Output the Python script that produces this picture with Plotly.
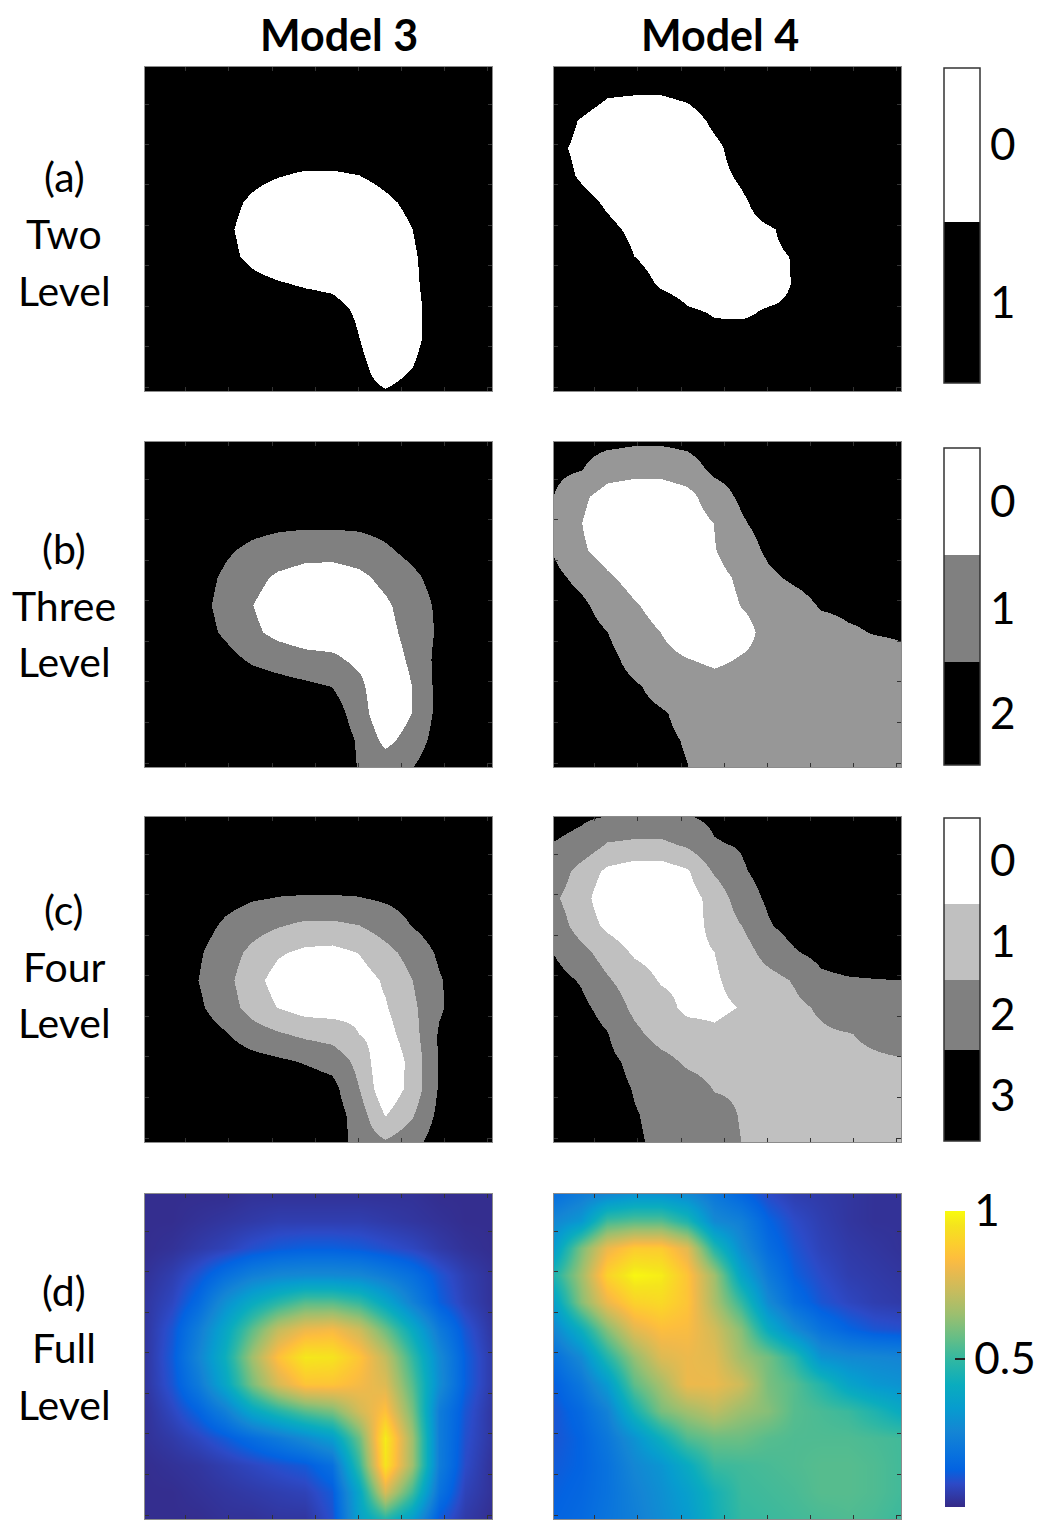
import plotly.graph_objects as go

# ---------------------------------------------------------------
# Data: normalised field sampled on a coarse grid (read from the
# "Full Level" panels and the level boundaries), rows top -> bottom
# ---------------------------------------------------------------
GRID_X = list(range(14))
GRID_Y = list(range(13))

MODEL3_FIELD = [
    [0.01, 0.01, 0.01, 0.01, 0.02, 0.02, 0.02, 0.02, 0.02, 0.02, 0.02, 0.01, 0.01, 0.01],
    [0.01, 0.01, 0.02, 0.03, 0.04, 0.05, 0.05, 0.05, 0.05, 0.04, 0.03, 0.02, 0.01, 0.01],
    [0.01, 0.02, 0.04, 0.06, 0.09, 0.11, 0.12, 0.12, 0.11, 0.09, 0.07, 0.04, 0.02, 0.01],
    [0.02, 0.05, 0.10, 0.17, 0.23, 0.26, 0.27, 0.27, 0.26, 0.22, 0.17, 0.10, 0.05, 0.02],
    [0.03, 0.07, 0.15, 0.29, 0.40, 0.48, 0.55, 0.55, 0.50, 0.38, 0.24, 0.12, 0.06, 0.02],
    [0.03, 0.10, 0.22, 0.38, 0.56, 0.72, 0.80, 0.82, 0.74, 0.58, 0.40, 0.21, 0.10, 0.03],
    [0.03, 0.11, 0.25, 0.42, 0.66, 0.85, 0.96, 0.95, 0.86, 0.72, 0.50, 0.27, 0.12, 0.04],
    [0.03, 0.10, 0.21, 0.38, 0.60, 0.76, 0.86, 0.86, 0.82, 0.77, 0.55, 0.28, 0.12, 0.04],
    [0.02, 0.07, 0.13, 0.23, 0.38, 0.47, 0.55, 0.60, 0.75, 0.85, 0.60, 0.22, 0.10, 0.03],
    [0.02, 0.04, 0.07, 0.11, 0.16, 0.21, 0.27, 0.34, 0.58, 0.97, 0.66, 0.22, 0.09, 0.03],
    [0.01, 0.02, 0.03, 0.05, 0.07, 0.09, 0.11, 0.17, 0.50, 0.95, 0.66, 0.22, 0.08, 0.02],
    [0.01, 0.01, 0.02, 0.03, 0.04, 0.05, 0.06, 0.11, 0.38, 0.76, 0.52, 0.18, 0.06, 0.02],
    [0.01, 0.01, 0.01, 0.02, 0.02, 0.03, 0.03, 0.09, 0.36, 0.47, 0.34, 0.11, 0.04, 0.01],
]

MODEL4_FIELD = [
    [0.17, 0.22, 0.26, 0.30, 0.30, 0.27, 0.20, 0.14, 0.08, 0.05, 0.04, 0.03, 0.02, 0.02],
    [0.26, 0.32, 0.52, 0.55, 0.55, 0.46, 0.27, 0.23, 0.13, 0.08, 0.05, 0.03, 0.02, 0.02],
    [0.34, 0.60, 0.80, 0.88, 0.88, 0.78, 0.47, 0.28, 0.16, 0.10, 0.06, 0.04, 0.03, 0.02],
    [0.46, 0.66, 0.90, 0.99, 0.97, 0.86, 0.66, 0.37, 0.21, 0.12, 0.08, 0.05, 0.04, 0.03],
    [0.36, 0.62, 0.80, 0.90, 0.92, 0.86, 0.68, 0.50, 0.27, 0.16, 0.10, 0.07, 0.05, 0.04],
    [0.26, 0.42, 0.62, 0.78, 0.84, 0.83, 0.75, 0.62, 0.40, 0.27, 0.18, 0.13, 0.10, 0.09],
    [0.17, 0.27, 0.47, 0.64, 0.77, 0.80, 0.78, 0.66, 0.59, 0.48, 0.30, 0.27, 0.26, 0.25],
    [0.12, 0.20, 0.33, 0.56, 0.67, 0.80, 0.80, 0.74, 0.60, 0.55, 0.47, 0.37, 0.32, 0.30],
    [0.10, 0.15, 0.24, 0.44, 0.60, 0.66, 0.71, 0.65, 0.62, 0.55, 0.53, 0.51, 0.46, 0.40],
    [0.10, 0.13, 0.20, 0.30, 0.42, 0.54, 0.58, 0.58, 0.55, 0.54, 0.54, 0.54, 0.53, 0.52],
    [0.11, 0.13, 0.18, 0.26, 0.31, 0.40, 0.51, 0.52, 0.53, 0.54, 0.55, 0.55, 0.54, 0.52],
    [0.12, 0.14, 0.18, 0.24, 0.29, 0.35, 0.44, 0.51, 0.52, 0.53, 0.55, 0.55, 0.54, 0.52],
    [0.13, 0.15, 0.19, 0.23, 0.28, 0.33, 0.43, 0.50, 0.51, 0.52, 0.53, 0.54, 0.53, 0.51],
]

MODEL_NAMES = ["Model 3", "Model 4"]
ROW_LABELS = [["(a)", "Two", "Level"], ["(b)", "Three", "Level"],
              ["(c)", "Four", "Level"], ["(d)", "Full", "Level"]]

# quantisation thresholds per model (low -> high)
TWO_LEVEL_THRESHOLDS = [[0.5], [0.56]]
THREE_LEVEL_THRESHOLDS = [[1 / 3, 2 / 3], [1 / 3, 2 / 3]]
FOUR_LEVEL_THRESHOLDS = [[0.25, 0.5, 0.75], [0.25, 0.5, 0.75]]

# colour-bar labels (bottom -> top)
TWO_LEVEL_LABELS = ["1", "0"]
THREE_LEVEL_LABELS = ["2", "1", "0"]
FOUR_LEVEL_LABELS = ["3", "2", "1", "0"]
FULL_TICKS = [0, 0.5, 1]
FULL_TICK_TEXT = ["0", "0.5", "1"]

# ---------------------------------------------------------------
# Styling / layout (pixel positions measured on the 1050x1525 page)
# ---------------------------------------------------------------
OFF = 8                      # page body margin of the html output
FW, FH = 1050 - OFF, 1525 - OFF
FONT = "Lato"
TWO_COLORS = ["#000000", "#ffffff"]
THREE_COLORS = [["#000000", "#808080", "#ffffff"], ["#000000", "#979797", "#ffffff"]]
FOUR_COLORS = ["#000000", "#808080", "#c0c0c0", "#ffffff"]

PARULA = [
    [0.000, "rgb(53,42,135)"], [0.079, "rgb(44,74,199)"], [0.127, "rgb(3,99,225)"],
    [0.175, "rgb(8,113,222)"], [0.254, "rgb(20,133,212)"], [0.333, "rgb(7,156,207)"],
    [0.413, "rgb(10,172,190)"], [0.492, "rgb(46,183,164)"], [0.571, "rgb(101,190,134)"],
    [0.651, "rgb(156,191,111)"], [0.730, "rgb(200,188,93)"], [0.810, "rgb(241,185,74)"],
    [0.841, "rgb(253,190,61)"], [0.889, "rgb(252,206,46)"], [0.952, "rgb(245,228,29)"],
    [1.000, "rgb(249,251,14)"],
]

COL_PX = [(145, 492), (554, 901)]
ROW_PX = [(67, 391), (442, 767), (817, 1142), (1194, 1519)]
TICK_FRAC_X = [0.118, 0.242, 0.366, 0.490, 0.614, 0.738, 0.862, 0.986]
TICK_FRAC_Y = [0.115, 0.239, 0.364, 0.488, 0.613, 0.738, 0.863, 0.988]


def fx(px):
    return (px - OFF) / FW


def fy(py):
    return 1 - (py - OFF) / FH


def step_scale(thresholds, colors):
    edges = [0.0] + list(thresholds) + [1.0]
    scale = []
    for i, c in enumerate(colors):
        scale.append([edges[i], c])
        scale.append([edges[i + 1], c])
    return scale


fig = go.Figure()
layout_axes = {}

fields = [MODEL3_FIELD, MODEL4_FIELD]
for r in range(4):
    for c in range(2):
        n = r * 2 + c + 1
        s = "" if n == 1 else str(n)
        x0, x1 = COL_PX[c]
        y0, y1 = ROW_PX[r]
        layout_axes["xaxis" + s] = dict(
            domain=[fx(x0), fx(x1)], anchor="y" + s, range=[GRID_X[0], GRID_X[-1]],
            showgrid=False, zeroline=False, showticklabels=False,
            ticks="inside", ticklen=4, tickwidth=1, tickcolor="#333333",
            tickvals=[f * GRID_X[-1] for f in TICK_FRAC_X],
            showline=True, linecolor="#8c8c8c", linewidth=1, mirror="ticks",
            fixedrange=True)
        layout_axes["yaxis" + s] = dict(
            domain=[fy(y1), fy(y0)], anchor="x" + s, range=[GRID_Y[-1], GRID_Y[0]],
            showgrid=False, zeroline=False, showticklabels=False,
            ticks="inside", ticklen=4, tickwidth=1, tickcolor="#333333",
            tickvals=[f * GRID_Y[-1] for f in TICK_FRAC_Y],
            showline=True, linecolor="#8c8c8c", linewidth=1, mirror="ticks",
            fixedrange=True)

        if r == 0:
            cs = step_scale(TWO_LEVEL_THRESHOLDS[c], TWO_COLORS)
        elif r == 1:
            cs = step_scale(THREE_LEVEL_THRESHOLDS[c], THREE_COLORS[c])
        elif r == 2:
            cs = step_scale(FOUR_LEVEL_THRESHOLDS[c], FOUR_COLORS)
        else:
            cs = PARULA

        show = (r == 3 and c == 1)
        cb = None
        if show:
            top, bot = 1211, 1507
            cb = dict(x=fx(945), xanchor="left", xpad=0, ypad=0,
                      y=(fy(top) + fy(bot)) / 2, yanchor="middle",
                      len=(bot - top) / FH, lenmode="fraction",
                      thickness=20, outlinewidth=0,
                      tickvals=FULL_TICKS, ticktext=FULL_TICK_TEXT,
                      ticks="inside", ticklen=10, tickwidth=2, tickcolor="#222222",
                      tickfont=dict(family=FONT, size=44, color="black"))
        fig.add_trace(go.Heatmap(
            x=GRID_X, y=GRID_Y, z=fields[c], zmin=0, zmax=1, zsmooth="best",
            colorscale=cs, showscale=show, colorbar=cb,
            xaxis="x" + s, yaxis="y" + s, hoverinfo="skip"))


# discrete colour bars (dummy traces carry the colour scale only)
def add_discrete_bar(top, bot, edges, colors, labels):
    scale = []
    for i, col in enumerate(colors):
        scale.append([edges[i], col])
        scale.append([edges[i + 1], col])
    centers = [(edges[i] + edges[i + 1]) / 2 for i in range(len(colors))]
    fig.add_trace(go.Scatter(
        x=[None], y=[None], mode="markers", showlegend=False, hoverinfo="skip",
        marker=dict(color=[0], cmin=0, cmax=1, colorscale=scale, showscale=True,
                    colorbar=dict(
                        x=fx(944), xanchor="left", xpad=0, ypad=0,
                        y=(fy(top) + fy(bot)) / 2, yanchor="middle",
                        len=(bot - top) / FH, lenmode="fraction",
                        thickness=36, outlinewidth=1.5, outlinecolor="#333333",
                        tickvals=centers, ticktext=labels, ticks="", ticklen=0,
                        tickfont=dict(family=FONT, size=44, color="black"))),
        xaxis="x", yaxis="y"))


add_discrete_bar(68, 383, [0, 0.511, 1], TWO_COLORS, TWO_LEVEL_LABELS)
add_discrete_bar(448, 765, [0, 0.325, 0.662, 1], THREE_COLORS[0], THREE_LEVEL_LABELS)
add_discrete_bar(818, 1141, [0, 0.282, 0.5, 0.734, 1], FOUR_COLORS, FOUR_LEVEL_LABELS)

annotations = []
TITLE_X_PX = [339, 720]
for c, name in enumerate(MODEL_NAMES):
    annotations.append(dict(
        x=fx(TITLE_X_PX[c]), y=fy(OFF), xref="paper", yref="paper",
        text="<b>" + name + "</b>", showarrow=False, xanchor="center", yanchor="top",
        borderpad=0, font=dict(family=FONT, size=43, color="black")))

LABEL_CENTER_PX = [233, 605, 966, 1347]
for r, lines in enumerate(ROW_LABELS):
    for k, line in enumerate(lines):
        annotations.append(dict(
            x=fx(64), y=fy(LABEL_CENTER_PX[r] + (k - 1) * 57),
            xref="paper", yref="paper", text=line, showarrow=False,
            xanchor="center", yanchor="middle",
            font=dict(family=FONT, size=41, color="black")))

fig.update_layout(
    width=FW, height=FH, margin=dict(l=0, r=0, t=0, b=0),
    paper_bgcolor="white", plot_bgcolor="white",
    showlegend=False, annotations=annotations, **layout_axes)

fig.write_html("out.html")
